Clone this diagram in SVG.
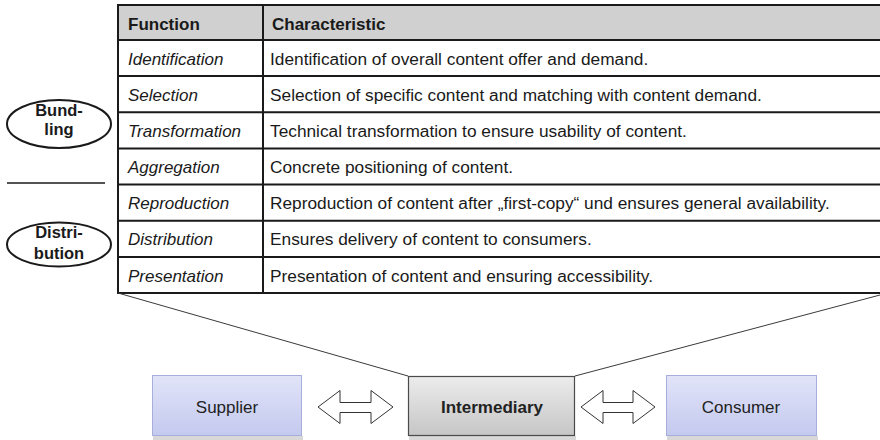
<svg xmlns="http://www.w3.org/2000/svg" width="880" height="440" viewBox="0 0 880 440">
  <defs>
    <linearGradient id="blueGrad" x1="0" y1="0" x2="0" y2="1">
      <stop offset="0" stop-color="#e1e4f8"/>
      <stop offset="1" stop-color="#c4c9ef"/>
    </linearGradient>
    <linearGradient id="grayGrad" x1="0" y1="0" x2="0" y2="1">
      <stop offset="0" stop-color="#ececec"/>
      <stop offset="1" stop-color="#c6c6c6"/>
    </linearGradient>
  </defs>
  <style>
    .grid { stroke: #1a1a1a; stroke-width: 2; fill: none; }
    .hdr { font-family: "Liberation Sans", Arial, sans-serif; font-size: 17px; font-weight: bold; fill: #1a1a1a; }
    .fn { font-family: "Liberation Sans", Arial, sans-serif; font-size: 17px; font-style: italic; fill: #1a1a1a; }
    .ch { font-family: "Liberation Sans", Arial, sans-serif; font-size: 17.3px; fill: #1a1a1a; }
    .ell { fill: #ffffff; stroke: #1a1a1a; stroke-width: 2; }
    .elltxt { font-family: "Liberation Sans", Arial, sans-serif; font-size: 16.5px; font-weight: bold; fill: #1a1a1a; text-anchor: middle; }
    .bluebox { fill: url(#blueGrad); stroke: #a7aedc; stroke-width: 1; }
    .graybox { fill: url(#grayGrad); stroke: #4a4a4a; stroke-width: 1.2; }
    .shadow { fill: #d8d8d8; }
    .boxtxt { font-family: "Liberation Sans", Arial, sans-serif; font-size: 17px; fill: #222; text-anchor: middle; }
    .boxtxtb { font-family: "Liberation Sans", Arial, sans-serif; font-size: 17px; font-weight: bold; fill: #222; text-anchor: middle; }
    .arrow { fill: #ffffff; stroke: #333333; stroke-width: 1; }
    .funnel { stroke: #3a3a3a; stroke-width: 1; fill: none; }
  </style>

  <g id="table">
    <rect x="118" y="5" width="763" height="35" fill="#cfd0cf"/>
    <path class="grid" d="M118,5 H881 M118,40 H881 M118,76.1 H881 M118,112.3 H881 M118,148.4 H881 M118,184.6 H881 M118,220.7 H881 M118,256.9 H881 M118,293 H881 M118,4 V294 M263,5 V293"/>
    <text class="hdr" x="128" y="30">Function</text>
    <text class="hdr" x="272" y="30">Characteristic</text>
    <text class="fn" x="128" y="64.6">Identification</text>
    <text class="ch" x="270" y="64.6">Identification of overall content offer and demand.</text>
    <text class="fn" x="128" y="100.7">Selection</text>
    <text class="ch" x="270" y="100.7">Selection of specific content and matching with content demand.</text>
    <text class="fn" x="128" y="136.9">Transformation</text>
    <text class="ch" x="270" y="136.9">Technical transformation to ensure usability of content.</text>
    <text class="fn" x="128" y="173">Aggregation</text>
    <text class="ch" x="270" y="173">Concrete positioning of content.</text>
    <text class="fn" x="128" y="209.2">Reproduction</text>
    <text class="ch" x="270" y="209.2">Reproduction of content after „first-copy“ und ensures general availability.</text>
    <text class="fn" x="128" y="245.3">Distribution</text>
    <text class="ch" x="270" y="245.3">Ensures delivery of content to consumers.</text>
    <text class="fn" x="128" y="281.5">Presentation</text>
    <text class="ch" x="270" y="281.5">Presentation of content and ensuring accessibility.</text>
  </g>

  <g id="bundling">
    <ellipse class="ell" cx="59" cy="124" rx="52" ry="24"/>
    <text class="elltxt" x="59" y="116">Bund-</text>
    <text class="elltxt" x="59" y="135">ling</text>
  </g>

  <line x1="7" y1="183" x2="105" y2="183" stroke="#1a1a1a" stroke-width="1.6"/>

  <g id="distribution">
    <ellipse class="ell" cx="59" cy="244.5" rx="52" ry="22"/>
    <text class="elltxt" x="59" y="238">Distri-</text>
    <text class="elltxt" x="59" y="259">bution</text>
  </g>

  <g id="connectors">
    <line class="funnel" x1="118" y1="293" x2="408" y2="376"/>
    <line class="funnel" x1="880" y1="295" x2="575" y2="376"/>
    <polygon class="arrow" points="318,407 340,390.5 340,402.5 371,402.5 371,390.5 393,407 371,423.5 371,412.5 340,412.5 340,423.5"/>
    <polygon class="arrow" points="581,407 603,390.5 603,402.5 633,402.5 633,390.5 655,407 633,423.5 633,412.5 603,412.5 603,423.5"/>
  </g>

  <g id="supplier">
    <rect class="shadow" x="153" y="436" width="150" height="4"/>
    <rect class="bluebox" x="152.5" y="375.5" width="149" height="60"/>
    <text class="boxtxt" x="227" y="413">Supplier</text>
  </g>

  <g id="intermediary">
    <rect class="shadow" x="409" y="436" width="167" height="4"/>
    <rect class="graybox" x="408.5" y="376.5" width="166" height="59"/>
    <text class="boxtxtb" x="492" y="413">Intermediary</text>
  </g>

  <g id="consumer">
    <rect class="shadow" x="667" y="436" width="151" height="4"/>
    <rect class="bluebox" x="666.5" y="375.5" width="150" height="60"/>
    <text class="boxtxt" x="741" y="413">Consumer</text>
  </g>
</svg>
